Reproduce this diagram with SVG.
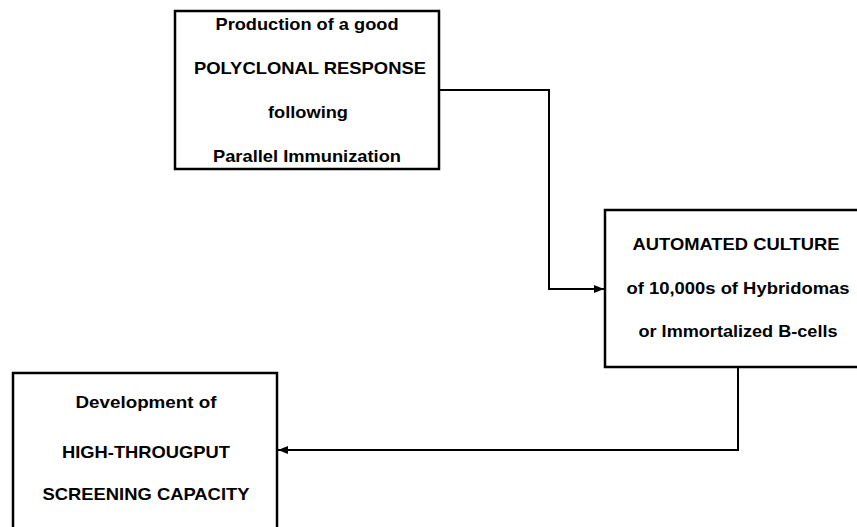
<svg xmlns="http://www.w3.org/2000/svg" width="857" height="527" viewBox="0 0 857 527">
  <style>
    .box { fill: #fff; stroke: #000; stroke-width: 2.5; }
    .lbl { font-family: "Liberation Sans", Arial, sans-serif; font-weight: bold; font-size: 17px; fill: #000; text-anchor: middle; }
    .wire { fill: none; stroke: #000; stroke-width: 2; }
  </style>
  <defs>
    <marker id="arrow" viewBox="0 0 10 10" refX="10" refY="5" markerWidth="11" markerHeight="10" orient="auto" markerUnits="userSpaceOnUse">
      <path d="M0,1 L10,5 L0,9 z" fill="#000"/>
    </marker>
  </defs>
  <rect width="857" height="527" fill="#fff"/>

  <g id="connectors">
    <path class="wire" d="M439,90 H549 V289 H604" marker-end="url(#arrow)"/>
    <path class="wire" d="M738,367 V450 H278" marker-end="url(#arrow)"/>
  </g>

  <g id="polyclonal">
    <rect class="box" x="175" y="11" width="264" height="158"/>
    <text class="lbl" x="307" y="30" textLength="183" lengthAdjust="spacingAndGlyphs">Production of a good</text>
    <text class="lbl" x="310" y="74" textLength="232" lengthAdjust="spacingAndGlyphs">POLYCLONAL RESPONSE</text>
    <text class="lbl" x="308" y="118" textLength="80" lengthAdjust="spacingAndGlyphs">following</text>
    <text class="lbl" x="307" y="162" textLength="188" lengthAdjust="spacingAndGlyphs">Parallel Immunization</text>
  </g>

  <g id="culture">
    <rect class="box" x="605" y="210" width="262" height="157"/>
    <text class="lbl" x="736" y="250" textLength="207" lengthAdjust="spacingAndGlyphs">AUTOMATED CULTURE</text>
    <text class="lbl" x="738" y="294" textLength="223" lengthAdjust="spacingAndGlyphs">of 10,000s of Hybridomas</text>
    <text class="lbl" x="738" y="337" textLength="199" lengthAdjust="spacingAndGlyphs">or Immortalized B-cells</text>
  </g>

  <g id="screening">
    <rect class="box" x="13" y="373" width="264" height="170"/>
    <text class="lbl" x="146" y="408" textLength="141" lengthAdjust="spacingAndGlyphs">Development of</text>
    <text class="lbl" x="146" y="458" textLength="168" lengthAdjust="spacingAndGlyphs">HIGH-THROUGPUT</text>
    <text class="lbl" x="146" y="500" textLength="207" lengthAdjust="spacingAndGlyphs">SCREENING CAPACITY</text>
  </g>
</svg>
